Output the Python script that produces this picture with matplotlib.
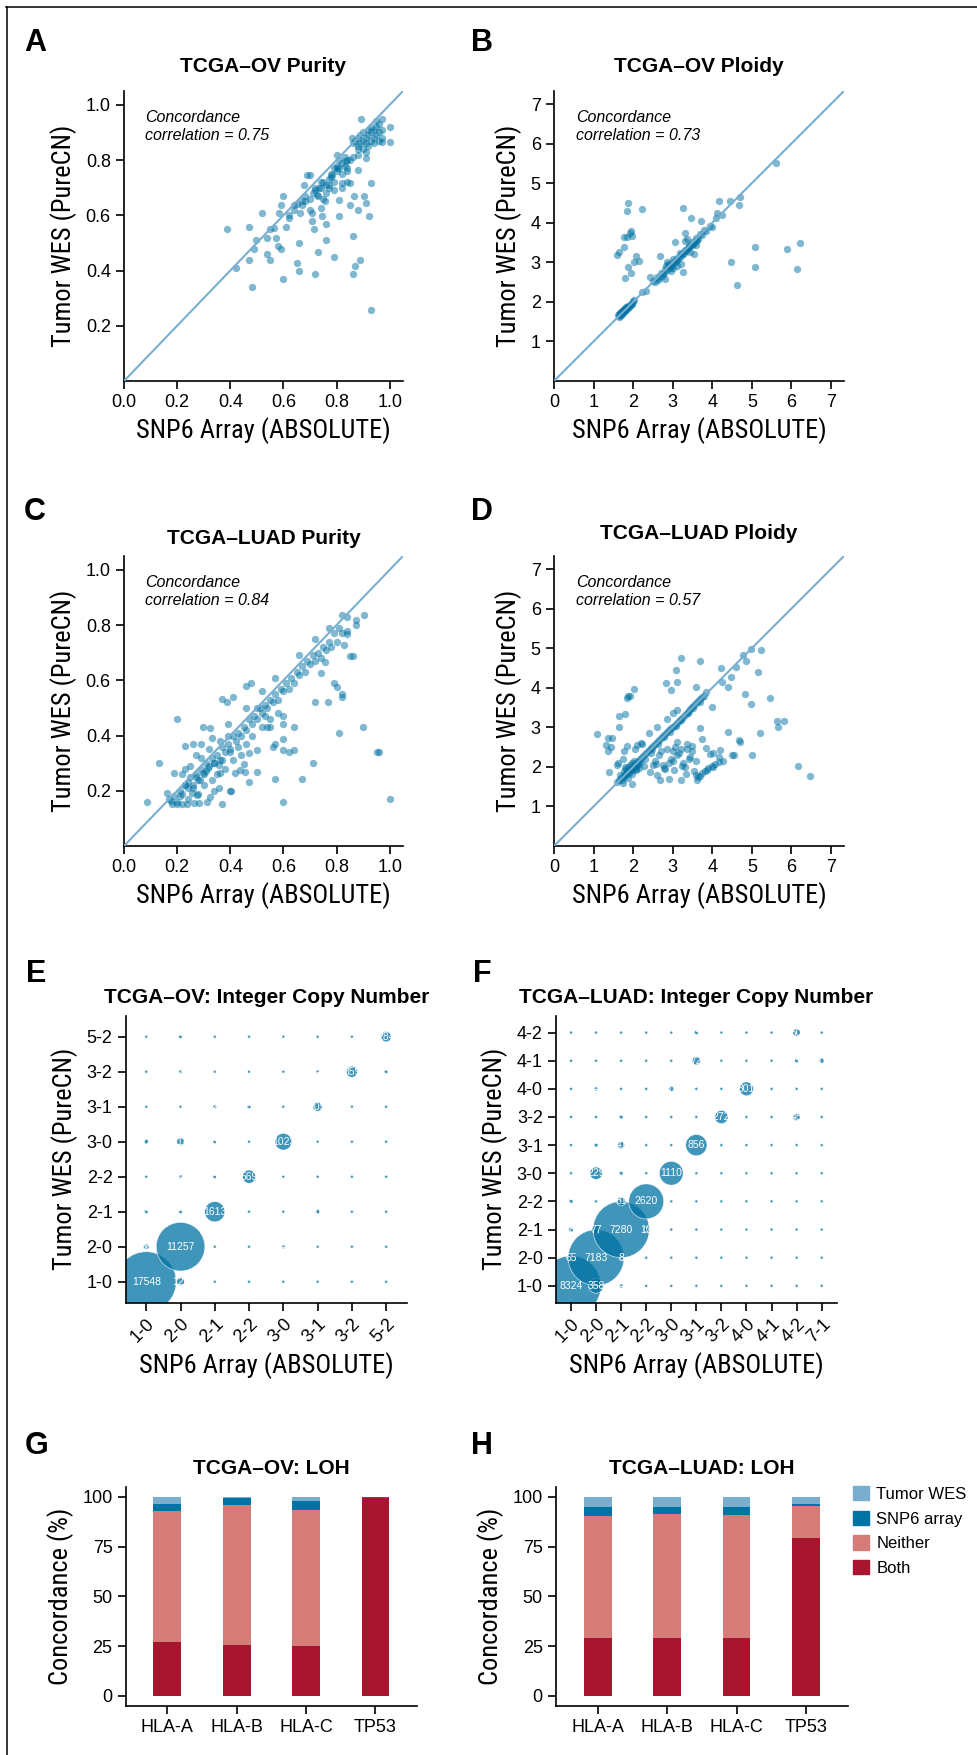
import numpy as np
import matplotlib
matplotlib.use("Agg")
import matplotlib.pyplot as plt
from matplotlib import font_manager
from matplotlib.lines import Line2D
from matplotlib.patches import Patch
from matplotlib.ticker import FormatStrFormatter

# ---------------- data ----------------
# A: TCGA-OV purity (SNP6 ABSOLUTE vs tumor WES PureCN)
ov_purity_snp6 = [
    0.389, 0.420, 0.469, 0.469, 0.480, 0.491, 0.495, 0.521, 0.540, 0.540,
    0.551, 0.551, 0.566, 0.571, 0.580, 0.590, 0.582, 0.591, 0.600, 0.600,
    0.610, 0.621, 0.639, 0.650, 0.660, 0.660, 0.662, 0.670, 0.683, 0.679,
    0.689, 0.699, 0.708, 0.708, 0.715, 0.719, 0.729, 0.727, 0.733, 0.740,
    0.746, 0.761, 0.761, 0.758, 0.771, 0.784, 0.790, 0.800, 0.803, 0.811,
    0.811, 0.822, 0.835, 0.840, 0.849, 0.851, 0.859, 0.860, 0.860, 0.865,
    0.870, 0.880, 0.880, 0.882, 0.890, 0.891, 0.903, 0.911, 0.912, 0.921,
    0.930, 0.930, 0.972, 1.000, 1.000, 0.972,
    0.62, 0.64, 0.65, 0.67, 0.68, 0.70, 0.71, 0.72, 0.73, 0.74,
    0.75, 0.76, 0.77, 0.78, 0.79, 0.80, 0.81, 0.82, 0.83, 0.84,
    0.72, 0.74, 0.75, 0.77, 0.78, 0.80, 0.81, 0.82, 0.83, 0.84,
    0.85, 0.86, 0.79, 0.76, 0.70,
    0.86, 0.87, 0.88, 0.88, 0.89, 0.89, 0.90, 0.90, 0.91, 0.91,
    0.92, 0.92, 0.93, 0.93, 0.94, 0.94, 0.95, 0.95, 0.96, 0.96,
    0.97, 0.97, 0.90, 0.92, 0.94, 0.96, 0.88, 0.93, 0.95, 0.91,
    0.82, 0.84, 0.79,
]
ov_purity_wes = [
    0.549, 0.408, 0.559, 0.438, 0.339, 0.477, 0.509, 0.609, 0.519, 0.459,
    0.438, 0.549, 0.555, 0.519, 0.489, 0.479, 0.609, 0.639, 0.669, 0.369,
    0.559, 0.589, 0.639, 0.429, 0.499, 0.399, 0.609, 0.639, 0.651, 0.709,
    0.747, 0.747, 0.609, 0.579, 0.549, 0.387, 0.468, 0.675, 0.699, 0.627,
    0.597, 0.569, 0.509, 0.651, 0.711, 0.747, 0.449, 0.819, 0.771, 0.657,
    0.597, 0.717, 0.795, 0.759, 0.717, 0.639, 0.879, 0.525, 0.387, 0.669,
    0.417, 0.619, 0.819, 0.765, 0.438, 0.948, 0.669, 0.645, 0.807, 0.597,
    0.717, 0.258, 0.948, 0.918, 0.867, 0.867,
    0.60, 0.62, 0.64, 0.65, 0.67, 0.66, 0.68, 0.69, 0.67, 0.70,
    0.72, 0.71, 0.73, 0.75, 0.77, 0.78, 0.80, 0.79, 0.81, 0.80,
    0.70, 0.72, 0.66, 0.70, 0.74, 0.76, 0.77, 0.75, 0.78, 0.77,
    0.80, 0.81, 0.72, 0.68, 0.62,
    0.86, 0.87, 0.85, 0.88, 0.86, 0.89, 0.87, 0.90, 0.88, 0.86,
    0.89, 0.91, 0.87, 0.90, 0.88, 0.91, 0.92, 0.89, 0.90, 0.93,
    0.91, 0.88, 0.84, 0.85, 0.86, 0.87, 0.84, 0.92, 0.94, 0.83,
    0.70, 0.72, 0.69,
]

# B: TCGA-OV ploidy
ov_ploidy_snp6 = [
    1.585, 1.65, 1.77, 1.77, 1.84, 1.87, 1.80, 1.88, 1.94, 1.94,
    1.91, 1.97, 1.84, 2.01, 2.07, 2.16, 2.23, 2.22, 2.33, 2.43,
    2.69, 3.06, 3.25, 3.27, 3.32, 3.47, 3.54, 3.71, 4.00, 4.11,
    4.18, 4.44, 4.67, 4.70, 4.48, 4.63, 5.09, 5.09, 5.62, 5.89,
    6.14, 6.21,
    1.62, 1.64, 1.65, 1.67, 1.68, 1.70, 1.71, 1.72, 1.74, 1.75,
    1.76, 1.78, 1.79, 1.80, 1.82, 1.83, 1.85, 1.86, 1.88, 1.90,
    1.92, 1.94, 1.96, 1.98, 2.00, 2.03, 1.70, 1.73, 1.77, 1.81,
    2.50, 2.55, 2.60, 2.65, 2.70, 2.75, 2.80, 2.85, 2.90, 2.95,
    3.00, 3.05, 3.10, 3.15, 3.20, 3.25, 3.30, 3.35, 3.40, 3.45,
    3.50, 3.55, 3.60, 3.65, 3.70, 3.75, 3.80, 2.62, 2.78, 2.88,
    2.98, 3.08, 3.18, 3.28, 3.38, 3.48, 3.58, 2.72, 2.92, 3.12,
    3.32, 3.52, 2.84, 3.02, 3.22, 3.42, 3.62, 3.85, 3.95, 4.10,
    4.25,
    2.80, 2.95, 3.10, 3.20, 3.35, 3.30, 3.60, 2.85, 3.00, 3.45,
]
ov_ploidy_wes = [
    3.185, 3.25, 3.38, 3.65, 4.30, 4.50, 2.60, 2.87, 2.74, 3.80,
    3.73, 3.66, 3.63, 3.02, 3.17, 3.04, 4.34, 2.24, 2.28, 2.64,
    3.15, 3.52, 2.76, 4.38, 3.73, 4.13, 3.21, 4.05, 3.90, 4.25,
    4.54, 4.54, 4.44, 4.64, 3.02, 2.43, 3.38, 2.87, 5.50, 3.34,
    2.84, 3.48,
    1.66, 1.62, 1.70, 1.65, 1.72, 1.68, 1.75, 1.70, 1.77, 1.72,
    1.80, 1.76, 1.82, 1.78, 1.85, 1.80, 1.87, 1.84, 1.90, 1.88,
    1.93, 1.91, 1.97, 1.95, 2.01, 2.05, 1.74, 1.77, 1.81, 1.86,
    2.52, 2.50, 2.62, 2.60, 2.72, 2.70, 2.82, 2.80, 2.92, 2.90,
    3.02, 3.00, 3.12, 3.10, 3.22, 3.20, 3.32, 3.30, 3.42, 3.40,
    3.52, 3.50, 3.62, 3.60, 3.72, 3.70, 3.82, 2.55, 2.74, 2.95,
    2.93, 3.03, 3.23, 3.24, 3.35, 3.43, 3.54, 2.66, 2.85, 3.07,
    3.28, 3.47, 2.90, 3.08, 3.16, 3.38, 3.57, 3.80, 3.93, 4.12,
    4.20,
    2.58, 2.78, 2.90, 2.95, 3.60, 3.55, 3.45, 3.00, 2.85, 3.25,
]

# C: TCGA-LUAD purity
luad_purity_snp6 = [
    0.087, 0.130, 0.199, 0.161, 0.176, 0.189, 0.228, 0.258, 0.289, 0.299,
    0.325, 0.369, 0.387, 0.409, 0.369, 0.403, 0.469, 0.501, 0.460, 0.478,
    0.570, 0.600, 0.670, 0.711, 0.719, 0.768, 0.790, 0.800, 0.810, 0.819,
    0.819, 0.901, 0.951, 0.960, 1.000, 0.902, 0.872, 0.872, 0.850, 0.860,
    0.819, 0.840, 0.829, 0.840, 0.740, 0.758, 0.639, 0.639, 0.620, 0.600,
    0.600, 0.600, 0.600, 0.561, 0.570, 0.538, 0.551, 0.501, 0.469, 0.454,
    0.450, 0.435, 0.419, 0.400, 0.357, 0.337, 0.322, 0.312, 0.284, 0.262,
    0.236, 0.218, 0.199, 0.180, 0.274, 0.255, 0.230, 0.287, 0.299, 0.318,
    0.356, 0.362,
    0.17, 0.19, 0.21, 0.23, 0.25, 0.27, 0.29, 0.31, 0.33, 0.35,
    0.37, 0.39, 0.41, 0.43, 0.45, 0.47, 0.49, 0.51, 0.53, 0.55,
    0.57, 0.59, 0.61, 0.63, 0.65, 0.67, 0.69, 0.71, 0.73, 0.75,
    0.77, 0.79, 0.81,
    0.20, 0.22, 0.24, 0.26, 0.28, 0.30, 0.32, 0.34, 0.36, 0.38,
    0.40, 0.42, 0.44, 0.46, 0.48, 0.50, 0.52, 0.54, 0.56, 0.58,
    0.60, 0.62, 0.64, 0.66, 0.68, 0.70, 0.72, 0.74, 0.76, 0.78,
    0.80, 0.82, 0.84,
    0.21, 0.24, 0.26, 0.28, 0.30, 0.33, 0.35, 0.38, 0.41, 0.44,
    0.24, 0.27, 0.31, 0.34, 0.37, 0.40, 0.43, 0.22, 0.25, 0.29,
    0.32, 0.36, 0.39, 0.46, 0.48, 0.52, 0.55, 0.58, 0.50, 0.53,
    0.23, 0.27, 0.33, 0.39, 0.46, 0.52, 0.57, 0.66, 0.72, 0.77,
]
luad_purity_wes = [
    0.161, 0.301, 0.461, 0.191, 0.164, 0.263, 0.361, 0.371, 0.371, 0.431,
    0.428, 0.533, 0.521, 0.541, 0.152, 0.200, 0.231, 0.269, 0.581, 0.589,
    0.241, 0.161, 0.241, 0.301, 0.521, 0.521, 0.589, 0.577, 0.410, 0.551,
    0.541, 0.431, 0.341, 0.341, 0.170, 0.838, 0.800, 0.818, 0.688, 0.688,
    0.838, 0.829, 0.728, 0.769, 0.628, 0.668, 0.431, 0.349, 0.341, 0.349,
    0.389, 0.440, 0.469, 0.359, 0.371, 0.431, 0.431, 0.349, 0.335, 0.269,
    0.296, 0.275, 0.263, 0.200, 0.209, 0.200, 0.179, 0.161, 0.155, 0.155,
    0.152, 0.152, 0.152, 0.152, 0.185, 0.191, 0.221, 0.239, 0.263, 0.281,
    0.293, 0.263,
    0.17, 0.18, 0.20, 0.22, 0.25, 0.26, 0.28, 0.30, 0.32, 0.33,
    0.36, 0.37, 0.40, 0.41, 0.43, 0.46, 0.47, 0.50, 0.51, 0.53,
    0.55, 0.57, 0.59, 0.61, 0.63, 0.65, 0.67, 0.69, 0.70, 0.72,
    0.74, 0.77, 0.79,
    0.16, 0.19, 0.21, 0.22, 0.24, 0.26, 0.29, 0.30, 0.31, 0.34,
    0.35, 0.38, 0.40, 0.42, 0.44, 0.46, 0.48, 0.50, 0.52, 0.53,
    0.56, 0.57, 0.59, 0.62, 0.63, 0.66, 0.67, 0.68, 0.71, 0.72,
    0.74, 0.77, 0.78,
    0.18, 0.17, 0.21, 0.19, 0.22, 0.24, 0.26, 0.28, 0.31, 0.33,
    0.23, 0.25, 0.27, 0.30, 0.31, 0.34, 0.36, 0.26, 0.29, 0.32,
    0.35, 0.38, 0.40, 0.37, 0.40, 0.43, 0.46, 0.48, 0.50, 0.47,
    0.28, 0.33, 0.39, 0.44, 0.50, 0.56, 0.61, 0.69, 0.75, 0.79,
]

# D: TCGA-LUAD ploidy
luad_ploidy_snp6 = [
    1.08, 1.37, 1.46, 1.32, 1.36, 1.43, 1.40, 1.63, 1.65, 1.65,
    1.80, 1.85, 1.92, 2.01, 1.88, 1.77, 1.84, 1.97, 2.09, 2.23,
    2.28, 2.43, 2.58, 2.68, 2.79, 2.90, 3.00, 3.04, 3.10, 3.21,
    3.23, 3.34, 3.37, 3.48, 3.60, 3.68, 3.74, 3.83, 3.95, 4.03,
    4.16, 4.20, 4.27, 4.41, 4.50, 4.55, 4.67, 4.70, 5.00, 5.21,
    5.46, 5.63, 5.81, 5.66, 6.17, 6.48, 4.84, 4.97, 5.15, 4.41,
    4.48, 4.24, 4.23, 4.59, 4.86, 4.77, 4.98, 5.23, 3.69, 3.20,
    3.09, 3.10, 2.82, 2.96, 3.00, 3.60, 3.99,
    3.61, 3.65, 3.74, 3.82, 3.90, 3.99, 4.07, 4.16, 3.58, 3.70,
    3.86, 4.03,
    1.60, 1.65, 1.70, 1.72, 1.75, 1.78, 1.80, 1.83, 1.85, 1.88,
    1.90, 1.93, 1.95, 1.98, 2.00, 2.03, 2.05, 2.08, 2.10, 2.13,
    2.15, 2.20, 2.25, 2.30, 1.68, 1.76, 1.82, 1.87, 1.92, 1.97,
    2.02, 2.07, 2.12, 2.18, 1.74, 1.86, 1.96, 2.06, 2.16, 1.80,
    2.35, 2.40, 2.45, 2.50, 2.55, 2.60, 2.65, 2.70, 2.75, 2.80,
    2.85, 2.90, 2.95, 3.00, 3.05, 3.10, 3.15, 3.20, 3.25, 3.30,
    3.35, 3.40, 3.45, 3.50, 3.55, 3.60, 3.65, 3.70, 3.75, 3.80,
    3.85, 2.48, 2.62, 2.78, 2.92, 3.08, 3.22, 3.38, 3.52, 3.68,
    2.30, 2.45, 2.55, 2.65, 2.75, 2.85, 2.95, 3.05, 3.15, 3.25,
    3.35, 3.45, 3.55, 2.50, 2.70, 2.90, 3.10, 3.30, 3.50, 2.60,
    2.80, 3.00, 3.20, 3.40,
    1.60, 1.75, 2.05, 2.20, 2.40, 2.60, 2.85, 3.10,
]
luad_ploidy_wes = [
    2.82, 2.74, 2.74, 2.55, 2.40, 2.50, 1.86, 2.11, 3.02, 3.29,
    3.34, 3.73, 3.79, 3.96, 3.79, 2.39, 2.53, 1.57, 2.55, 2.57,
    2.01, 1.86, 2.08, 1.67, 1.97, 1.69, 2.39, 1.92, 2.64, 1.67,
    2.03, 1.82, 2.58, 2.53, 2.15, 2.99, 2.70, 2.47, 2.32, 2.34,
    2.24, 2.43, 2.16, 2.87, 2.30, 2.30, 2.68, 2.62, 2.30, 2.85,
    3.75, 3.16, 3.16, 3.02, 2.03, 1.76, 3.83, 3.58, 4.39, 4.03,
    4.26, 4.15, 4.49, 4.53, 4.67, 4.82, 4.97, 4.95, 4.67, 4.74,
    4.46, 4.15, 4.11, 3.94, 3.37, 4.03, 3.52,
    1.67, 1.74, 1.84, 1.90, 1.97, 2.03, 2.08, 2.12, 1.80, 1.78,
    1.93, 2.00,
    1.62, 1.68, 1.72, 1.66, 1.78, 1.74, 1.83, 1.79, 1.88, 1.84,
    1.92, 1.87, 1.97, 1.93, 2.02, 1.98, 2.08, 2.03, 2.12, 2.09,
    2.17, 2.22, 2.27, 2.32, 1.80, 1.90, 1.95, 2.00, 2.05, 2.10,
    2.15, 1.95, 2.05, 2.13, 1.58, 1.72, 1.82, 1.92, 1.98, 2.00,
    2.38, 2.42, 2.48, 2.52, 2.57, 2.62, 2.67, 2.72, 2.78, 2.82,
    2.87, 2.92, 2.97, 3.02, 3.07, 3.12, 3.17, 3.22, 3.27, 3.32,
    3.37, 3.42, 3.47, 3.52, 3.57, 3.62, 3.67, 3.72, 3.77, 3.80,
    3.88, 2.44, 2.58, 2.75, 2.88, 3.04, 3.18, 3.35, 3.48, 3.64,
    2.20, 2.35, 2.15, 2.30, 2.05, 2.45, 2.20, 2.50, 2.35, 2.10,
    2.45, 2.25, 1.90, 2.05, 2.40, 2.10, 2.30, 2.00, 2.40, 1.80,
    1.95, 2.15, 2.45, 2.20,
    2.05, 2.20, 2.45, 2.60, 2.85, 3.00, 3.20, 3.45,
]

ccc_values = [0.75, 0.73, 0.84, 0.57]

# E: TCGA-OV integer copy number (rows = PureCN state, cols = ABSOLUTE state)
ov_cn_states = ["1-0", "2-0", "2-1", "2-2", "3-0", "3-1", "3-2", "5-2"]
ov_cn_counts = [
    [17548, 124, 0, 0, 0, 0, 0, 0],     # 1-0
    [36, 11257, 0, 0, 4, 0, 0, 0],      # 2-0
    [3, 5, 1613, 0, 0, 11, 0, 0],       # 2-1
    [0, 4, 3, 569, 0, 0, 0, 0],         # 2-2
    [12, 114, 3, 0, 1023, 0, 0, 0],     # 3-0
    [0, 0, 2, 5, 0, 205, 0, 0],         # 3-1
    [0, 2, 0, 0, 0, 4, 359, 3],         # 3-2
    [0, 3, 0, 0, 0, 0, 0, 284],         # 5-2
]

# F: TCGA-LUAD integer copy number
luad_cn_x = ["1-0", "2-0", "2-1", "2-2", "3-0", "3-1", "3-2", "4-0", "4-1", "4-2", "7-1"]
luad_cn_y = ["1-0", "2-0", "2-1", "2-2", "3-0", "3-1", "3-2", "4-0", "4-1", "4-2"]
luad_cn_counts = [
    [8324, 358, 4, 0, 0, 0, 0, 0, 0, 0, 0],     # 1-0
    [65, 7183, 8, 0, 0, 0, 0, 0, 0, 0, 0],      # 2-0
    [8, 77, 7280, 10, 0, 0, 0, 0, 0, 0, 0],     # 2-1
    [3, 0, 81, 2620, 0, 0, 0, 0, 0, 0, 0],      # 2-2
    [0, 229, 3, 0, 1110, 0, 0, 0, 0, 0, 0],     # 3-0
    [0, 3, 41, 0, 0, 856, 0, 0, 0, 0, 0],       # 3-1
    [0, 0, 3, 0, 0, 0, 272, 0, 0, 45, 0],       # 3-2
    [0, 4, 0, 0, 11, 0, 0, 301, 0, 0, 0],       # 4-0
    [0, 0, 0, 0, 0, 72, 0, 0, 0, 3, 11],        # 4-1
    [0, 0, 0, 0, 0, 3, 0, 0, 0, 50, 0],         # 4-2
]

# G/H: LOH concordance (%)
loh_genes = ["HLA-A", "HLA-B", "HLA-C", "TP53"]
ov_both = [26.8, 25.6, 25.1, 99.5]
ov_neither = [66.2, 70.2, 68.2, 0.0]
ov_snp6_only = [3.3, 3.5, 4.5, 0.3]
ov_wes_only = [3.7, 0.7, 2.2, 0.2]
luad_both = [29.1, 29.1, 29.1, 79.4]
luad_neither = [61.2, 62.2, 61.7, 16.1]
luad_snp6_only = [4.5, 3.5, 4.0, 0.8]
luad_wes_only = [5.0, 5.0, 5.0, 3.7]

# ---------------- style ----------------
W, H = 977, 1755
plt.rcParams['font.family'] = ['Liberation Sans', 'DejaVu Sans']

# axis titles in the reference use a condensed face; take one if it is there
fonts = font_manager.fontManager.ttflist
names = {f.name for f in fonts}
LABEL_KW = dict(family=['Liberation Sans', 'DejaVu Sans'], fontsize=17)
for cand in ['Liberation Sans Narrow', 'Roboto Condensed', 'Open Sans Condensed', 'Noto Sans Condensed']:
    if cand in names:
        LABEL_KW = dict(family=[cand, 'DejaVu Sans'], fontsize=19)
        break
else:
    if any(f.name == 'DejaVu Sans' and str(f.stretch) in ('condensed', '500') for f in fonts):
        LABEL_KW = dict(family=['DejaVu Sans'], stretch='condensed', fontsize=17)

DOT = '#0072a3'
DIAG = '#78afd0'
C_BOTH, C_NEITHER, C_SNP6, C_WES = '#a8152e', '#d57c78', '#0073a5', '#7aaece'

fig = plt.figure(figsize=(W / 100, H / 100), dpi=100)


def add_axes(x0, y0, x1, y1):
    # pixel box (left, top, right, bottom) -> figure fraction
    return fig.add_axes([x0 / W, 1 - y1 / H, (x1 - x0) / W, (y1 - y0) / H])


def style(ax, title, pad_px, ylabel):
    ax.spines['top'].set_visible(False)
    ax.spines['right'].set_visible(False)
    ax.spines['left'].set_linewidth(1.2)
    ax.spines['bottom'].set_linewidth(1.2)
    ax.tick_params(length=5.5, width=1.2, pad=4, labelsize=13)
    ax.set_title(title, fontsize=15, fontweight='bold', pad=pad_px * 0.72)
    ax.set_ylabel(ylabel, labelpad=6, **LABEL_KW)


def scatter_panel(box, x, y, top, ticks_x, ticks_y, fmt, ccc, title, pad_px):
    ax = add_axes(*box)
    ax.scatter(x, y, s=28, color=DOT, alpha=0.5, linewidths=0, zorder=2)
    ax.axline((0, 0), slope=1, color=DIAG, lw=1.5, zorder=3)
    ax.set_xlim(0, top)
    ax.set_ylim(0, top)
    ax.set_xticks(ticks_x)
    ax.set_yticks(ticks_y)
    ax.xaxis.set_major_formatter(FormatStrFormatter(fmt))
    ax.yaxis.set_major_formatter(FormatStrFormatter(fmt))
    ax.text(0.075, 0.935, "Concordance\ncorrelation = %.2f" % ccc, transform=ax.transAxes,
            fontsize=11.5, style='italic', va='top', ha='left', linespacing=1.3)
    style(ax, title, pad_px, "Tumor WES (PureCN)")
    ax.set_xlabel("SNP6 Array (ABSOLUTE)", labelpad=4, **LABEL_KW)
    return ax


def bubble_panel(box, counts, xcats, ycats, title, pad_px):
    ax = add_axes(*box)
    counts = np.asarray(counts, dtype=float)
    gx, gy = np.meshgrid(np.arange(1, len(xcats) + 1), np.arange(1, len(ycats) + 1))
    radius = 1.5 + 28.5 * np.sqrt(counts / counts.max())   # pixels
    ax.scatter(gx.ravel(), gy.ravel(), s=(2 * radius.ravel() * 0.72) ** 2, color=DOT,
               alpha=0.75, edgecolors='white', linewidths=0.5, zorder=2)
    for xx, yy, n in zip(gx.ravel(), gy.ravel(), counts.ravel()):
        if n > 0:
            ax.text(xx, yy, "%d" % n, color='white', fontsize=7.5, ha='center', va='center',
                    zorder=3, clip_on=True)
    ax.set_xlim(0.4, len(xcats) + 0.6)
    ax.set_ylim(0.4, len(ycats) + 0.6)
    ax.set_xticks(np.arange(1, len(xcats) + 1))
    ax.set_xticklabels(xcats, rotation=45, ha='right', va='top', rotation_mode='anchor')
    ax.set_yticks(np.arange(1, len(ycats) + 1))
    ax.set_yticklabels(ycats)
    style(ax, title, pad_px, "Tumor WES (PureCN)")
    ax.set_xlabel("SNP6 Array (ABSOLUTE)", labelpad=4, **LABEL_KW)
    return ax


def loh_panel(box, both, neither, snp6, wes, title, pad_px):
    ax = add_axes(*box)
    x = np.arange(1, len(loh_genes) + 1)
    bottom = np.zeros(len(loh_genes))
    for vals, col in [(both, C_BOTH), (neither, C_NEITHER), (snp6, C_SNP6), (wes, C_WES)]:
        ax.bar(x, vals, 0.4, bottom=bottom, color=col, zorder=2)
        bottom += np.asarray(vals)
    ax.set_xlim(0.4, 4.6)
    ax.set_ylim(-5, 105)
    ax.set_yticks([0, 25, 50, 75, 100])
    ax.set_xticks(x)
    ax.set_xticklabels(loh_genes)
    style(ax, title, pad_px, "Concordance (%)")
    return ax


# ---------------- panels ----------------
scatter_panel((124, 91, 403, 381), ov_purity_snp6, ov_purity_wes, 1.05,
              [0, 0.2, 0.4, 0.6, 0.8, 1.0], [0.2, 0.4, 0.6, 0.8, 1.0], '%.1f',
              ccc_values[0], "TCGA\u2013OV Purity", 19)
scatter_panel((554, 91, 844, 381), ov_ploidy_snp6, ov_ploidy_wes, 7.33,
              range(0, 8), range(1, 8), '%d', ccc_values[1], "TCGA\u2013OV Ploidy", 19)
scatter_panel((124, 556, 403, 846), luad_purity_snp6, luad_purity_wes, 1.05,
              [0, 0.2, 0.4, 0.6, 0.8, 1.0], [0.2, 0.4, 0.6, 0.8, 1.0], '%.1f',
              ccc_values[2], "TCGA\u2013LUAD Purity", 12.4)
scatter_panel((554, 556, 844, 846), luad_ploidy_snp6, luad_ploidy_wes, 7.33,
              range(0, 8), range(1, 8), '%d', ccc_values[3], "TCGA\u2013LUAD Ploidy", 16.7)

bubble_panel((125.7, 1015.7, 406.7, 1302.7), ov_cn_counts, ov_cn_states, ov_cn_states,
             "TCGA\u2013OV: Integer Copy Number", 12.4)
bubble_panel((556, 1015.7, 836.7, 1302.7), luad_cn_counts, luad_cn_x, luad_cn_y,
             "TCGA\u2013LUAD: Integer Copy Number", 12.4)

loh_panel((125.7, 1487, 417, 1705.7), ov_both, ov_neither, ov_snp6_only, ov_wes_only,
          "TCGA\u2013OV: LOH", 13)
loh_panel((556, 1487, 847.7, 1705.7), luad_both, luad_neither, luad_snp6_only,
          luad_wes_only, "TCGA\u2013LUAD: LOH", 13)

handles = [Patch(color=C_WES, label="Tumor WES"), Patch(color=C_SNP6, label="SNP6 array"),
           Patch(color=C_NEITHER, label="Neither"), Patch(color=C_BOTH, label="Both")]
fig.legend(handles=handles, loc='upper left', bbox_to_anchor=(853 / W, 1 - 1486 / H),
           frameon=False, fontsize=12, handlelength=0.96, handleheight=0.96,
           handletextpad=0.45, labelspacing=0.52, borderpad=0, borderaxespad=0)

# panel letters
for letter, (px, py) in zip("ABCDEFGH", [(35, 43), (482, 43), (35, 512), (482, 512),
                                         (36, 974), (482, 974), (37, 1446), (482, 1446)]):
    fig.text(px / W, 1 - py / H, letter, fontsize=22, fontweight='bold', ha='center', va='center')

# frame lines (left and top)
fig.add_artist(Line2D([6.7 / W, 6.7 / W], [0, 1 - 7 / H], color='black', lw=1.1))
fig.add_artist(Line2D([6.2 / W, 1], [1 - 7 / H, 1 - 7 / H], color='black', lw=1.1))

fig.savefig("out.png", dpi=100)
